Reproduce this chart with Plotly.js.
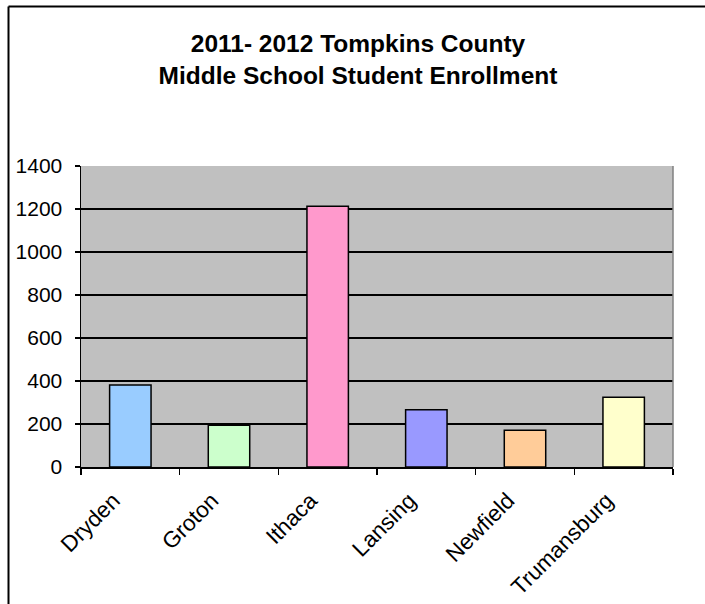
<!DOCTYPE html>
<html>
<head>
<meta charset="utf-8">
<script src="https://cdn.plot.ly/plotly-3.0.1.min.js"></script>
<style>html,body{margin:0;padding:0;background:#fff;}#chart{width:705px;height:604px;}</style>
</head>
<body>
<div id="chart"></div>
<script>
var categories = ["Dryden", "Groton", "Ithaca", "Lansing", "Newfield", "Trumansburg"];
var enrollment = [381, 194, 1213, 266, 171, 324];
var barColors = ["#99CCFF", "#CCFFCC", "#FF99CC", "#9999FF", "#FFCC99", "#FFFFCC"];
var yTicks = [0, 200, 400, 600, 800, 1000, 1200, 1400];
var titleLines = ["2011- 2012 Tompkins County", "Middle School Student Enrollment"];

var W = 705, H = 604;
var mL = 81, mR = 32, mT = 166, mB = 137;
var pw = W - mL - mR, ph = H - mT - mB;
function px(x){ return (x - mL) / pw; }
function py(y){ return (H - mB - y) / ph; }

var trace = {
  type: "bar",
  x: categories,
  y: enrollment,
  marker: { color: barColors, line: { color: "#000", width: 1.5 } },
  hoverinfo: "x+y"
};

var layout = {
  width: W, height: H,
  margin: { l: mL, r: mR, t: mT, b: mB, pad: 0 },
  paper_bgcolor: "#ffffff",
  plot_bgcolor: "#C0C0C0",
  font: { family: "Arial, 'Liberation Sans', sans-serif", color: "#000", size: 21 },
  bargap: 0.58,
  showlegend: false,
  title: {
    text: "<b>" + titleLines.join("<br>") + "</b>",
    font: { size: 24.5, family: "Arial, 'Liberation Sans', sans-serif", color: "#000" },
    x: 358 / W, xanchor: "center", xref: "container",
    y: 1 - 52 / H, yanchor: "top", yref: "container"
  },
  xaxis: {
    type: "category",
    tickangle: -45,
    ticks: "outside", ticklen: 6, tickwidth: 1.5, tickcolor: "#000",
    tickson: "boundaries",
    ticklabelshift: -17,
    ticklabelstandoff: 10,
    showline: true, linecolor: "#000", linewidth: 1.5,
    showgrid: false, zeroline: false,
    automargin: false,
    tickfont: { size: 22.5 }
  },
  yaxis: {
    range: [0, 1400],
    tickvals: yTicks,
    ticktext: yTicks.map(String),
    ticks: "outside", ticklen: 5, tickwidth: 1.5, tickcolor: "#000",
    ticklabelstandoff: 8,
    showline: true, linecolor: "#000", linewidth: 1.5,
    showgrid: true, gridcolor: "#000", gridwidth: 1.5,
    zeroline: false, automargin: false,
    tickfont: { size: 21 }
  },
  shapes: [
    { type: "line", xref: "paper", yref: "paper", x0: 1, x1: 1, y0: 0, y1: 1, line: { color: "#808080", width: 1.5 } },
    { type: "line", xref: "paper", yref: "paper", x0: px(8.5), x1: px(8.5), y0: py(6.5), y1: py(H + 2), line: { color: "#000", width: 2 } },
    { type: "line", xref: "paper", yref: "paper", x0: px(8.5), x1: px(W + 2), y0: py(6.5), y1: py(6.5), line: { color: "#000", width: 2 } }
  ]
};

Plotly.newPlot("chart", [trace], layout, { displayModeBar: false, staticPlot: true });
</script>
</body>
</html>
